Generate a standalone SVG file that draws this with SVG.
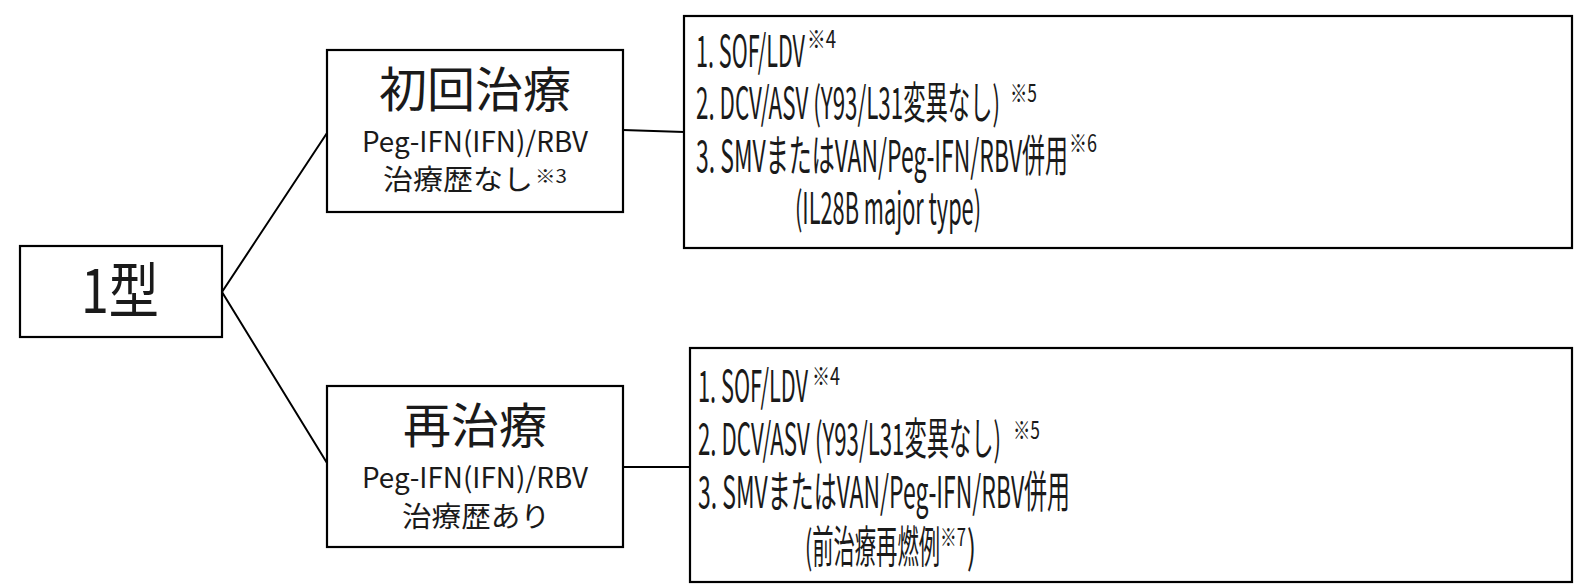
<svg xmlns="http://www.w3.org/2000/svg" width="1575" height="584" viewBox="0 0 1575 584">
<style>
.box{fill:#fff;stroke:#000;stroke-width:2.2}
.ln{fill:none;stroke:#000;stroke-width:2}
text{font-family:"Noto Sans CJK JP","Noto Sans",sans-serif;fill:#1a1a1a}
.big{font-size:48px;text-anchor:middle}
.sub{font-size:28px;text-anchor:middle}
.item{font-size:44px}
.sup{font-size:24px}
.sups{font-size:18px}
</style>
<rect width="1575" height="584" fill="#fff"/>
<g id="connectors">
<polyline class="ln" points="327,133 222,292 327,463"/>
<line class="ln" x1="623" y1="130" x2="684" y2="132"/>
<line class="ln" x1="623" y1="467" x2="690" y2="467"/>
</g>
<g id="type1">
<rect class="box" x="20" y="246" width="202" height="91"/>
<text x="120" y="313" font-size="60" text-anchor="middle" textLength="78" lengthAdjust="spacingAndGlyphs">1型</text>
</g>
<g id="initial">
<rect class="box" x="327" y="50" width="296" height="162"/>
<text class="big" x="475" y="107">初回治療</text>
<text class="sub" x="475" y="152" textLength="226" lengthAdjust="spacingAndGlyphs">Peg-IFN(IFN)/RBV</text>
<text x="383" y="190" font-size="28" textLength="150" lengthAdjust="spacingAndGlyphs">治療歴なし</text>
<text class="sups" x="535" y="183" textLength="32" lengthAdjust="spacingAndGlyphs">※3</text>
</g>
<g id="retreat">
<rect class="box" x="327" y="386" width="296" height="161"/>
<text class="big" x="475" y="443">再治療</text>
<text class="sub" x="475" y="488" textLength="226" lengthAdjust="spacingAndGlyphs">Peg-IFN(IFN)/RBV</text>
<text x="402" y="527" font-size="28" textLength="148" lengthAdjust="spacingAndGlyphs">治療歴あり</text>
</g>
<g id="initial-options">
<rect class="box" x="684" y="16" width="888" height="232"/>
<text class="item" x="696" y="67" textLength="109" lengthAdjust="spacingAndGlyphs">1. SOF/LDV</text>
<text class="sup" x="807" y="48" textLength="29" lengthAdjust="spacingAndGlyphs">※4</text>
<text class="item" x="696" y="119" textLength="304" lengthAdjust="spacingAndGlyphs">2. DCV/ASV (Y93/L31変異なし)</text>
<text class="sup" x="1010" y="102" textLength="27" lengthAdjust="spacingAndGlyphs">※5</text>
<text class="item" x="696" y="172" textLength="372" lengthAdjust="spacingAndGlyphs">3. SMVまたはVAN/Peg-IFN/RBV併用</text>
<text class="sup" x="1069" y="152" textLength="28" lengthAdjust="spacingAndGlyphs">※6</text>
<text class="item" x="795" y="224" textLength="186" lengthAdjust="spacingAndGlyphs">(IL28B major type)</text>
</g>
<g id="retreat-options">
<rect class="box" x="690" y="348" width="882" height="234"/>
<text class="item" x="698" y="402" textLength="110" lengthAdjust="spacingAndGlyphs">1. SOF/LDV</text>
<text class="sup" x="812" y="385" textLength="28" lengthAdjust="spacingAndGlyphs">※4</text>
<text class="item" x="698" y="455" textLength="303" lengthAdjust="spacingAndGlyphs">2. DCV/ASV (Y93/L31変異なし)</text>
<text class="sup" x="1013" y="439" textLength="27" lengthAdjust="spacingAndGlyphs">※5</text>
<text class="item" x="698" y="508" textLength="372" lengthAdjust="spacingAndGlyphs">3. SMVまたはVAN/Peg-IFN/RBV併用</text>
<text class="item" x="805" y="563" textLength="135" lengthAdjust="spacingAndGlyphs">(前治療再燃例</text>
<text class="sup" x="940" y="546" textLength="26" lengthAdjust="spacingAndGlyphs">※7</text>
<text class="item" x="967" y="563" textLength="9" lengthAdjust="spacingAndGlyphs">)</text>
</g>
</svg>
